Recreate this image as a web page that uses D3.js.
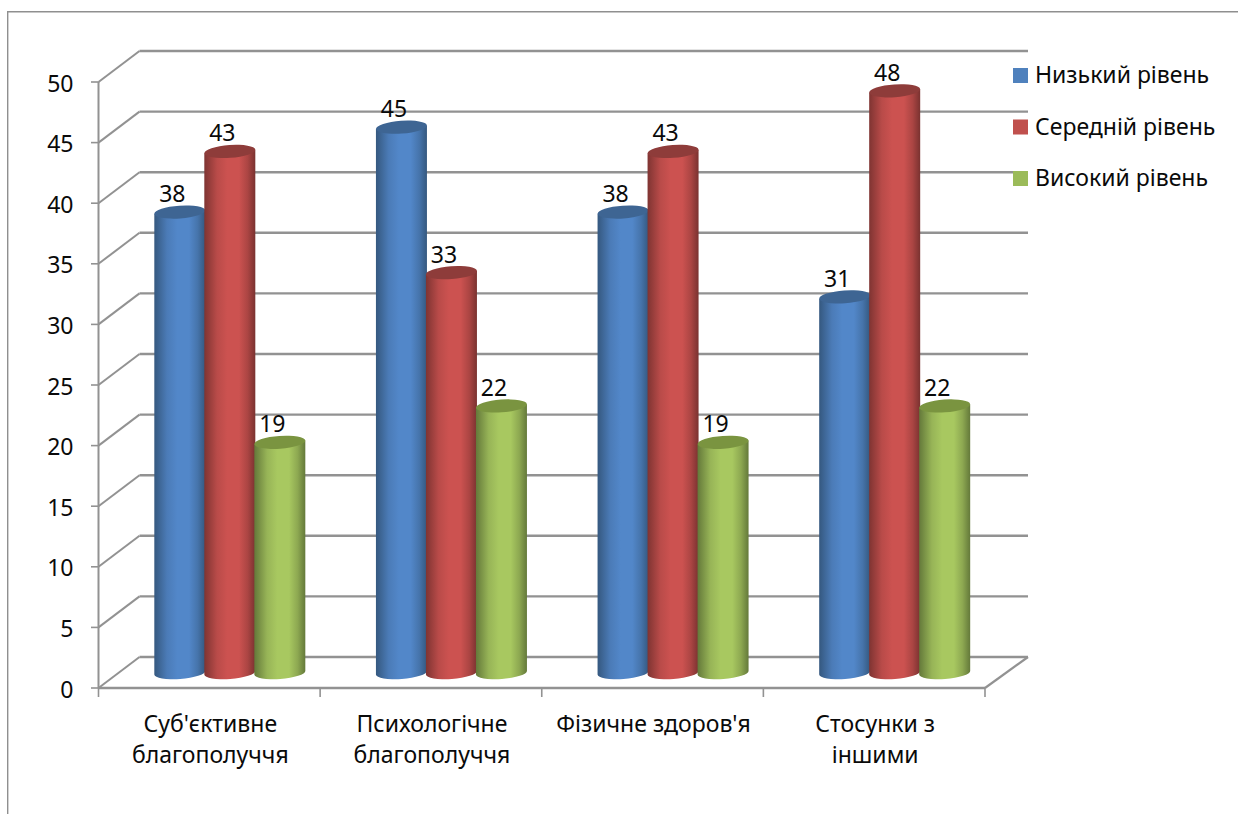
<!DOCTYPE html>
<html><head><meta charset="utf-8">
<script src="https://cdn.jsdelivr.net/npm/d3@7"></script>
<style>html,body{margin:0;padding:0;background:#fff}svg{display:block}text{font-family:"Noto Sans",sans-serif;fill:#0a0a0a}</style>
</head><body><svg id="c" width="1238" height="814"></svg>
<script>
const categories = [["Суб'єктивне","благополуччя"],["Психологічне","благополуччя"],["Фізичне здоров'я"],["Стосунки з","іншими"]];
const seriesNames = ["Низький рівень","Середній рівень","Високий рівень"];
const low = [38,45,38,31];
const mid = [43,33,43,48];
const high = [19,22,19,22];
const yTicks = [0,5,10,15,20,25,30,35,40,45,50];
const colors = {
  edgeL:["#35587f","#7f3432","#64793a"],
  edgeR:["#35587f","#7a3230","#64793a"],
  side:["#5287c9","#cc5250","#a8c860"],
  top:["#3e6593","#8e3c3a","#7a9440"],
  swatch:["#4f81bd","#c0504d","#9bbb59"]
};
const svg = d3.select("#c");
const x = d3.scaleBand().domain(d3.range(4)).range([98.5,985]);
const y = d3.scaleLinear().domain([0,50]).range([688,82]);
const dx=41, dy=-31, grey="#929292";
const defs = svg.append("defs");
colors.side.forEach((c,i)=>{
  const g=defs.append("linearGradient").attr("id","g"+i);
  [[0,colors.edgeL[i]],[.25,d3.interpolateRgb(colors.edgeL[i],c)(.75)],[.45,c],[.68,c],[.85,d3.interpolateRgb(colors.edgeR[i],c)(.6)],[1,colors.edgeR[i]]]
    .forEach(s=>g.append("stop").attr("offset",s[0]).attr("stop-color",s[1]));
});
// frame
svg.append("path").attr("d","M7.7 814V11.7H1238").attr("fill","none").attr("stroke","#8f8f8f").attr("stroke-width",1.4);
// gridlines
const line=(a,b,c,d,w=2)=>svg.append("line").attr("x1",a).attr("y1",b).attr("x2",c).attr("y2",d).attr("stroke",grey).attr("stroke-width",w);
yTicks.forEach(t=>{
  const p=y(t);
  line(98.5,p,98.5+dx,p+dy,2);
  line(98.5+dx,p+dy,985+dx+2,p+dy,2.4);
  line(91,p,98.5,p,1.6);
  svg.append("text").attr("x",73.5).attr("y",p+9.5).attr("text-anchor","end").attr("font-size",23).text(t);
});
line(98.5,y(0),98.5,y(50),2);
line(98.5,y(0),985,y(0),2.4);
line(985,y(0),985+dx+2,y(0)+dy,2.2);
[0,1,2,3,4].forEach(i=>line(i<4?x(i):985,688,i<4?x(i):985,697,1.6));
// cylinders
const inner=d3.scaleBand().domain([0,1,2]).range([-0.5,149.5]);
const ys=[low,mid,high];
const rx=25.5, ry=6.4, tilt=-4, baseY=15.4;
categories.forEach((cat,ci)=>{
  const bandC=x(ci)+x.bandwidth()/2;
  ys.forEach((vals,si)=>{
    const bx=bandC+21-75+inner(si)+inner.bandwidth()/2, v=vals[ci];
    const top=y(v)-baseY, bot=y(0)-baseY;
    const t=Math.sin(tilt*Math.PI/180)*rx;
    svg.append("path").attr("fill",`url(#g${si})`)
      .attr("d",`M${bx-rx} ${top-t}L${bx+rx} ${top+t}L${bx+rx} ${bot+t}A${rx} ${ry} ${tilt} 0 1 ${bx-rx} ${bot-t}Z`);
    svg.append("ellipse").attr("cx",bx).attr("cy",top).attr("rx",rx).attr("ry",ry)
      .attr("transform",`rotate(${tilt} ${bx} ${top})`).attr("fill",colors.top[si]);
  });
});
// value labels on top of all cylinders
categories.forEach((cat,ci)=>{
  const bandC=x(ci)+x.bandwidth()/2;
  ys.forEach((vals,si)=>{
    const bx=bandC+21-75+inner(si)+inner.bandwidth()/2, v=vals[ci];
    svg.append("text").attr("x",bx-7.5).attr("y",y(v)-baseY-10).attr("text-anchor","middle").attr("font-size",23).text(v);
  });
  cat.forEach((s,li)=>svg.append("text").attr("x",x(ci)+x.bandwidth()/2+1).attr("y",732+li*31).attr("text-anchor","middle").attr("font-size",23).text(s));
});
// legend
const ly=d3.scalePoint().domain([0,1,2]).range([83,186]);
seriesNames.forEach((n,i)=>{
  svg.append("rect").attr("x",1013).attr("y",ly(i)-15).attr("width",15).attr("height",15).attr("fill",colors.swatch[i]);
  svg.append("text").attr("x",1035).attr("y",ly(i)).attr("font-size",23).text(n);
});
</script></body></html>
